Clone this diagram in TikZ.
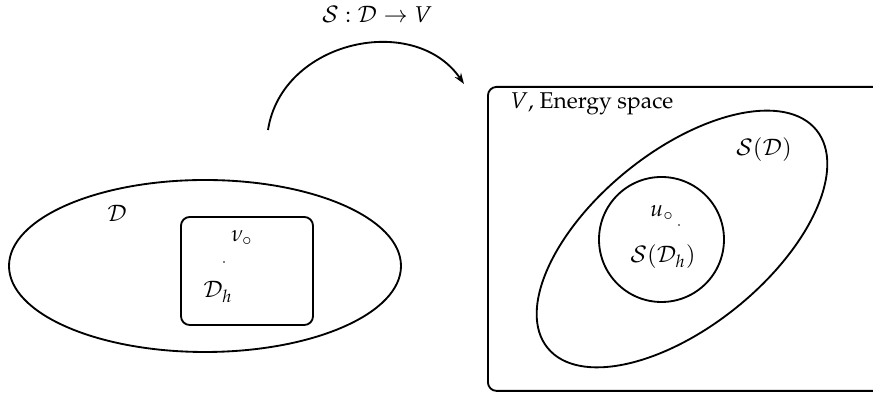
\documentclass[tikz,border=0pt]{standalone}
\usepackage[T1]{fontenc}
\usepackage{mathpazo}
\usetikzlibrary{shapes.geometric,arrows.meta}
\begin{document}
\begin{tikzpicture}[x=0.46pt,y=-0.46pt,
  outline/.style={draw=black,line width=0.85pt},
  lbl/.style={inner sep=0pt,font=\fontsize{10.5}{12}\selectfont},
  tinydot/.style={circle,fill=black,inner sep=0pt,minimum size=0.7pt}]
\useasboundingbox (0,0) rectangle (873,395);
\clip (0,0) rectangle (873,395);
% left domain
\node[outline,ellipse,minimum width=392*0.46pt,minimum height=172*0.46pt,inner sep=0pt] (D) at (205,266) {};
\node[outline,rectangle,rounded corners=4pt,minimum width=132*0.46pt,minimum height=108*0.46pt,inner sep=0pt] (Dh) at (247,271) {};
\node[lbl] (Dlbl) at (117,213) {$\mathcal{D}$};
\node[lbl] (nu) at (242,238) {$\nu_\circ$};
\node[tinydot] (nudot) at (224,262) {};
\node[lbl] (Dhlbl) at (218,292) {$\mathcal{D}_h$};
% right space
\node[outline,rectangle,rounded corners=4pt,minimum width=440*0.46pt,minimum height=304*0.46pt,inner sep=0pt,anchor=north west] (V) at (487,86) {};
\node[lbl,anchor=west] (Vlbl) at (510,104) {$V$, Energy space};
\node[outline,ellipse,rotate=39,minimum width=346*0.46pt,minimum height=175*0.46pt,inner sep=0pt] (SD) at (682,239) {};
\node[lbl] (SDlbl) at (764,150) {$\mathcal{S}(\mathcal{D})$};
\node[outline,circle,minimum size=125*0.46pt,inner sep=0pt] (SDh) at (661.5,239.5) {};
\node[lbl] (u) at (662,213) {$u_\circ$};
\node[tinydot] (udot) at (679,225) {};
\node[lbl] (SDhlbl) at (663,257) {$\mathcal{S}(\mathcal{D}_h)$};
% map arrow
\coordinate (a0) at (268,130);
\coordinate (a1) at (464,84);
\draw[line width=0.85pt,-{Stealth[length=5pt,width=3.5pt]}] (a0) .. controls (282,40) and (415,12) .. (a1);
\node[lbl] (map) at (377,15) {$\mathcal{S}:\mathcal{D}\to V$};
\end{tikzpicture}
\end{document}
